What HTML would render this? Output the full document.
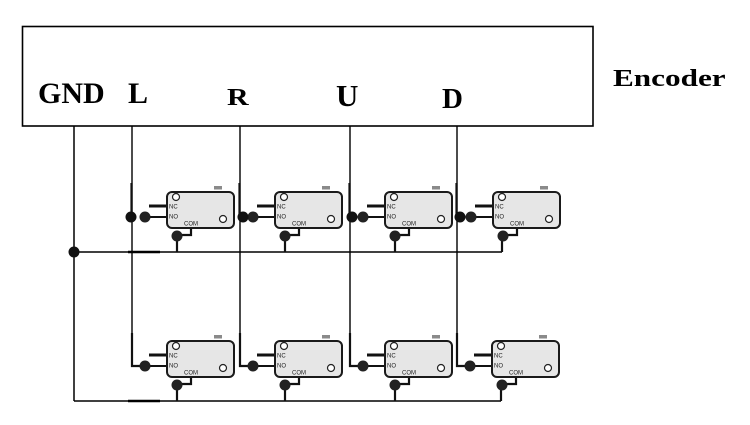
<!DOCTYPE html>
<html><head><meta charset="utf-8"><style>
html,body{margin:0;padding:0;background:#fff;}
svg{display:block;}
.lbl{font-family:"Liberation Serif",serif;font-weight:bold;fill:#000;}
.sm{font-family:"Liberation Sans",sans-serif;font-size:6px;fill:#222;}
</style></head><body>
<svg width="750" height="425" viewBox="0 0 750 425" xmlns="http://www.w3.org/2000/svg">
<rect x="0" y="0" width="750" height="425" fill="#fff"/>
<!-- Encoder box -->
<rect x="22.5" y="26.5" width="570.5" height="99.5" fill="none" stroke="#000" stroke-width="1.6"/>
<text class="lbl" x="38" y="103" font-size="30">GND</text>
<text class="lbl" x="128" y="103" font-size="30">L</text>
<text class="lbl" x="227" y="105" font-size="30" transform="translate(0,105) scale(1,0.8) translate(0,-105)">R</text>
<text class="lbl" x="336" y="106" font-size="31">U</text>
<text class="lbl" x="442" y="108" font-size="29">D</text>
<text class="lbl" x="0" y="0" font-size="24" transform="translate(613,86) scale(1.3,1)">Encoder</text>

<!-- GND wiring -->
<g stroke="#000" stroke-width="1.5" fill="none">
<line x1="74" y1="126" x2="74" y2="401"/>
<line x1="74" y1="252" x2="502" y2="252"/>
<line x1="74" y1="401" x2="501" y2="401"/>
<line x1="128" y1="252" x2="160" y2="252" stroke-width="2.5"/>
<line x1="128" y1="401" x2="160" y2="401" stroke-width="2.5"/>
</g>
<circle cx="74" cy="252" r="5.5" fill="#111"/>

<!-- vertical signal lines -->
<g stroke="#000" stroke-width="1.4" fill="none">
<line x1="132" y1="126" x2="132" y2="366"/>
<line x1="240" y1="126" x2="240" y2="366"/>
<line x1="350" y1="126" x2="350" y2="366"/>
<line x1="457" y1="126" x2="457" y2="366"/>
</g>

<!-- switch template -->
<defs>
<g id="sw">
  <!-- leads -->
  <line x1="-18" y1="14" x2="0" y2="14" stroke="#111" stroke-width="3"/>
  <line x1="-22" y1="25" x2="0" y2="25" stroke="#111" stroke-width="2"/>
  <polyline points="24,36 24,43 10,43" fill="none" stroke="#111" stroke-width="2.2"/>
  <!-- tab -->
  <rect x="47" y="-6" width="8" height="3.5" fill="#8a8a8a"/>
  <!-- body -->
  <rect x="0" y="0" width="67" height="36" rx="5" ry="5" fill="#e6e6e6" stroke="#1a1a1a" stroke-width="2"/>
  <circle cx="9" cy="5" r="3.5" fill="#fff" stroke="#222" stroke-width="1.2"/>
  <circle cx="56" cy="27" r="3.5" fill="#fff" stroke="#222" stroke-width="1.2"/>
  <text class="sm" x="2" y="16.5">NC</text>
  <text class="sm" x="2" y="26.5">NO</text>
  <text class="sm" x="17" y="33.5">COM</text>
  <!-- dots -->
  <circle cx="-22" cy="25" r="5.5" fill="#222"/>
  <circle cx="10" cy="44" r="5.5" fill="#222"/>
</g>
</defs>

<!-- top row -->
<g stroke="#111" stroke-width="2.2" fill="none">
<line x1="131.5" y1="183" x2="131.5" y2="217"/>
<line x1="239.5" y1="183" x2="239.5" y2="217"/>
<line x1="349.5" y1="183" x2="349.5" y2="217"/>
<line x1="456.5" y1="183" x2="456.5" y2="217"/>
<!-- COM drops top row -->
<line x1="177" y1="236" x2="177" y2="252"/>
<line x1="285" y1="236" x2="285" y2="252"/>
<line x1="395" y1="236" x2="395" y2="252"/>
<line x1="502" y1="236" x2="502" y2="252"/>
<!-- COM drops bottom row -->
<line x1="177" y1="385" x2="177" y2="401"/>
<line x1="285" y1="385" x2="285" y2="401"/>
<line x1="395" y1="385" x2="395" y2="401"/>
<line x1="501" y1="385" x2="501" y2="401"/>
<!-- bottom row L shapes -->
<polyline points="132,333 132,366 145,366"/>
<polyline points="240,333 240,366 253,366"/>
<polyline points="350,333 350,366 363,366"/>
<polyline points="457,333 457,366 470,366"/>
</g>

<use href="#sw" x="167" y="192"/>
<use href="#sw" x="275" y="192"/>
<use href="#sw" x="385" y="192"/>
<use href="#sw" x="493" y="192"/>
<circle cx="131" cy="217" r="5.5" fill="#111"/>
<circle cx="243" cy="217" r="5.5" fill="#111"/>
<circle cx="352" cy="217" r="5.5" fill="#111"/>
<circle cx="460" cy="217" r="5.5" fill="#111"/>

<use href="#sw" x="167" y="341"/>
<use href="#sw" x="275" y="341"/>
<use href="#sw" x="385" y="341"/>
<use href="#sw" x="492" y="341"/>
</svg>
</body></html>
